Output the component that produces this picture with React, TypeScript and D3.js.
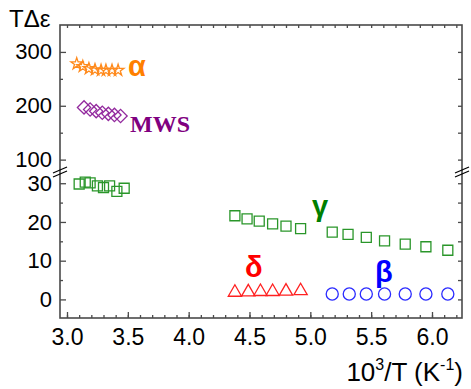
import React, { useEffect, useRef } from "react";
import * as d3 from "d3";

// ---- data ----
const alphaX = [3.08, 3.13, 3.18, 3.23, 3.28, 3.32, 3.37, 3.42];
const alphaY = [278, 273, 269, 267, 266, 266, 266, 266];

const mwsX = [3.14, 3.19, 3.24, 3.29, 3.34, 3.39, 3.44];
const mwsY = [197, 193, 190, 187, 185, 183, 181];

const gammaX = [
  3.1, 3.15, 3.19, 3.25, 3.3, 3.35, 3.41, 3.47,
  4.38, 4.48, 4.58, 4.69, 4.8, 4.92,
  5.18, 5.31, 5.46, 5.61, 5.78, 5.95, 6.13,
];
const gammaY = [
  29.8, 30.3, 30.1, 29.3, 28.9, 29.3, 27.9, 28.7,
  21.6, 20.8, 20.2, 19.5, 18.9, 18.3,
  17.4, 16.8, 16.0, 15.1, 14.3, 13.6, 12.7,
];

const deltaX = [4.38, 4.49, 4.59, 4.69, 4.8, 4.92];
const deltaY = [1.8, 1.9, 2.0, 2.0, 2.1, 2.2];

const betaX = [5.18, 5.32, 5.46, 5.61, 5.78, 5.95, 6.13];
const betaY = [1.4, 1.4, 1.4, 1.4, 1.4, 1.4, 1.4];

const xTicks = [3.0, 3.5, 4.0, 4.5, 5.0, 5.5, 6.0];
const yTopTicks = [100, 200, 300];
const yBottomTicks = [0, 10, 20, 30];

const W = 471;
const H = 389;

export default function App() {
  const svgRef = useRef<SVGSVGElement>(null);

  useEffect(() => {
    document.body.style.margin = "0";
    if (!svgRef.current) return;
    const svg = d3.select(svgRef.current);
    svg.selectAll("*").remove();

    const left = 60;
    const right = 462;
    const top = 25;
    const bottom = 318;
    const brk = 172;
    const axisColor = "#4a4a4a";
    const font = "Liberation Sans, Arial, sans-serif";

    const x = d3.scaleLinear().domain([2.9425, 6.2466]).range([left, right]);
    const yTop = d3.scaleLinear().domain([77, 350]).range([brk, top]);
    const yBot = d3.scaleLinear().domain([-4.8, 32.9]).range([bottom, brk]);

    // frame
    svg
      .append("rect")
      .attr("x", left)
      .attr("y", top)
      .attr("width", right - left)
      .attr("height", bottom - top)
      .attr("fill", "none")
      .attr("stroke", axisColor)
      .attr("stroke-width", 1.6);

    const styleAxis = (g: any, size: number) => {
      g.select(".domain").remove();
      g.selectAll(".tick line").attr("stroke", axisColor).attr("stroke-width", 1.3);
      g.selectAll(".tick text")
        .attr("fill", "#000")
        .style("font-family", font)
        .style("font-size", `${size}px`);
    };

    // x axes (bottom labelled, top ticks only)
    const xMinor = d3.range(30, 63).map((d) => d / 10);
    svg
      .append("g")
      .attr("transform", `translate(0,${bottom})`)
      .call(d3.axisBottom(x).tickValues(xMinor).tickSize(-3).tickFormat(() => ""))
      .call((g) => styleAxis(g, 10));
    svg
      .append("g")
      .attr("transform", `translate(0,${bottom})`)
      .call(
        d3.axisBottom(x).tickValues(xTicks).tickSize(-6).tickPadding(11).tickFormat(d3.format(".1f"))
      )
      .call((g) => styleAxis(g, 23));
    svg
      .append("g")
      .attr("transform", `translate(0,${top})`)
      .call(d3.axisTop(x).tickValues(xMinor).tickSize(-3).tickFormat(() => ""))
      .call((g) => styleAxis(g, 10));

    // y axes, upper segment
    svg
      .append("g")
      .attr("transform", `translate(${left},0)`)
      .call(d3.axisLeft(yTop).tickValues([150, 250]).tickSize(-3).tickFormat(() => ""))
      .call((g) => styleAxis(g, 10));
    svg
      .append("g")
      .attr("transform", `translate(${left},0)`)
      .call(d3.axisLeft(yTop).tickValues(yTopTicks).tickSize(-6).tickPadding(8))
      .call((g) => styleAxis(g, 22));
    svg
      .append("g")
      .attr("transform", `translate(${right},0)`)
      .call(d3.axisRight(yTop).tickValues([100, 150, 200, 250, 300]).tickSize(-4).tickFormat(() => ""))
      .call((g) => styleAxis(g, 10));

    // y axes, lower segment
    svg
      .append("g")
      .attr("transform", `translate(${left},0)`)
      .call(d3.axisLeft(yBot).tickValues([5, 15, 25]).tickSize(-3).tickFormat(() => ""))
      .call((g) => styleAxis(g, 10));
    svg
      .append("g")
      .attr("transform", `translate(${left},0)`)
      .call(d3.axisLeft(yBot).tickValues(yBottomTicks).tickSize(-6).tickPadding(8))
      .call((g) => styleAxis(g, 22));
    svg
      .append("g")
      .attr("transform", `translate(${right},0)`)
      .call(d3.axisRight(yBot).tickValues([0, 5, 10, 15, 20, 25, 30]).tickSize(-4).tickFormat(() => ""))
      .call((g) => styleAxis(g, 10));

    // break marks
    [left, right].forEach((bx) => {
      [-2, 2].forEach((off) => {
        svg
          .append("line")
          .attr("x1", bx - 7)
          .attr("y1", brk + off + 3)
          .attr("x2", bx + 7)
          .attr("y2", brk + off - 3)
          .attr("stroke", "#000")
          .attr("stroke-width", 1.2);
      });
    });

    // markers
    const plot = (
      xs: number[],
      ys: number[],
      yScale: any,
      type: any,
      size: number,
      color: string,
      rotate = 0
    ) => {
      svg
        .append("g")
        .selectAll("path")
        .data(xs.map((v, i) => [v, ys[i]]))
        .enter()
        .append("path")
        .attr("d", d3.symbol().type(type).size(size)())
        .attr("transform", (d) => `translate(${x(d[0])},${yScale(d[1])}) rotate(${rotate})`)
        .attr("fill", "none")
        .attr("stroke", color)
        .attr("stroke-width", 1.3);
    };

    plot(alphaX, alphaY, yTop, d3.symbolStar, 42, "#ff8a1c");
    plot(mwsX, mwsY, yTop, d3.symbolSquare, 88, "#932a9e", 45);
    plot(gammaX, gammaY, yBot, d3.symbolSquare, 100, "#2a962a");
    plot(deltaX, deltaY, yBot, d3.symbolTriangle, 76, "#ff2020");
    plot(betaX, betaY, yBot, d3.symbolCircle, 115, "#2b2bff");

    // series labels
    const label = (t: string, lx: number, ly: number, color: string, size: number, family: string) => {
      svg
        .append("text")
        .attr("x", lx)
        .attr("y", ly)
        .attr("fill", color)
        .style("font-family", family)
        .style("font-size", `${size}px`)
        .style("font-weight", "bold")
        .text(t);
    };
    label("α", 128, 76, "#ff7f00", 29, font);
    label("MWS", 130, 132, "#800080", 24, "Liberation Serif, Times New Roman, serif");
    label("γ", 312, 216, "#007f00", 29, font);
    label("δ", 245, 277, "#ff0000", 29, font);
    label("β", 375, 282, "#0000ff", 29, font);

    // axis titles
    const xt = svg
      .append("text")
      .attr("x", 463)
      .attr("y", 381)
      .attr("text-anchor", "end")
      .style("font-family", font)
      .style("font-size", "26px");
    xt.append("tspan").text("10");
    xt.append("tspan").attr("dy", -11).style("font-size", "16px").text("3");
    xt.append("tspan").attr("dy", 11).text("/T (K");
    xt.append("tspan").attr("dy", -11).style("font-size", "16px").text("-1");
    xt.append("tspan").attr("dy", 11).text(")");

    svg
      .append("text")
      .attr("x", 9)
      .attr("y", 27)
      .style("font-family", font)
      .style("font-size", "24px")
      .text("TΔε");
  }, []);

  return <svg ref={svgRef} width={W} height={H} style={{ display: "block", background: "#fff" }} />;
}
